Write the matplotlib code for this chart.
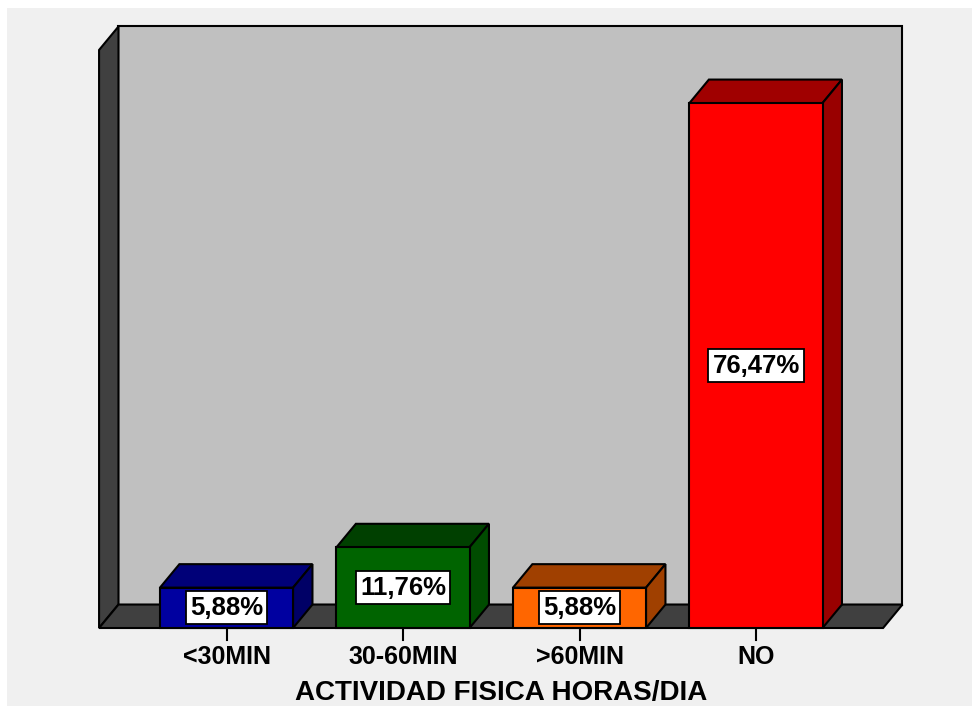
import matplotlib.pyplot as plt
from matplotlib.patches import Polygon, Rectangle

categories = ['<30MIN', '30-60MIN', '>60MIN', 'NO']
percent = [5.88, 11.76, 5.88, 76.47]
labels = ['5,88%', '11,76%', '5,88%', '76,47%']
front_colors = ['#0000a0', '#006400', '#ff6600', '#ff0000']
top_colors = ['#000078', '#004000', '#a04000', '#a00000']
side_colors = ['#000066', '#004c00', '#a04000', '#990000']
xlabel = 'ACTIVIDAD FISICA HORAS/DIA'

plt.rcParams['font.family'] = ['Liberation Sans', 'DejaVu Sans']

# 3d look: depth offset and box sizes in data units
dx, dy = 0.110, 3.42
half_w = 0.377
x0, x1 = -0.722, 3.72
wall_top = 84.2
edge = dict(edgecolor='black', linewidth=1.5, joinstyle='miter')

fig = plt.figure(figsize=(9.72, 7.06), dpi=100)
fig.patch.set_facecolor('white')
ax = fig.add_axes([0, 0, 1, 1])
ax.set_xlim(-1.2833, 4.2238)
ax.set_ylim(-11.36, 91.48)
ax.axis('off')

# panel background
ax.add_patch(Rectangle((0.007, 0), 0.993, 0.989, transform=ax.transAxes,
                       facecolor='#f0f0f0', edgecolor='none', zorder=0))

# back wall, left wall, floor
ax.add_patch(Rectangle((x0 + dx, dy), x1 - x0, wall_top, facecolor='#c0c0c0', zorder=1, **edge))
ax.add_patch(Polygon([(x0, 0), (x0 + dx, dy), (x0 + dx, wall_top + dy), (x0, wall_top)],
                     facecolor='#404040', zorder=1, **edge))
ax.add_patch(Polygon([(x0, 0), (x1, 0), (x1 + dx, dy), (x0 + dx, dy)],
                     facecolor='#404040', zorder=1, **edge))

for i, (v, lab) in enumerate(zip(percent, labels)):
    l, r = i - half_w, i + half_w
    ax.add_patch(Polygon([(l, v), (r, v), (r + dx, v + dy), (l + dx, v + dy)],
                         facecolor=top_colors[i], zorder=2, **edge))
    ax.add_patch(Polygon([(r, 0), (r + dx, dy), (r + dx, v + dy), (r, v)],
                         facecolor=side_colors[i], zorder=2, **edge))
    ax.add_patch(Rectangle((l, 0), r - l, v, facecolor=front_colors[i], zorder=3, **edge))
    ax.text(i, v / 2, lab, ha='center', va='center', fontsize=18.5, fontweight='bold', zorder=4,
            bbox=dict(boxstyle='square,pad=0.17', facecolor='white', edgecolor='black', linewidth=1.3))
    # tick and category label
    ax.plot([i, i], [0, -1.75], color='black', linewidth=1.5, zorder=2)
    ax.text(i, -4.22, categories[i], ha='center', va='center', fontsize=18, fontweight='bold')

ax.text((x0 + x1 + dx) / 2, -9.45, xlabel, ha='center', va='center', fontsize=20, fontweight='bold')

fig.savefig('out.png', dpi=100)
